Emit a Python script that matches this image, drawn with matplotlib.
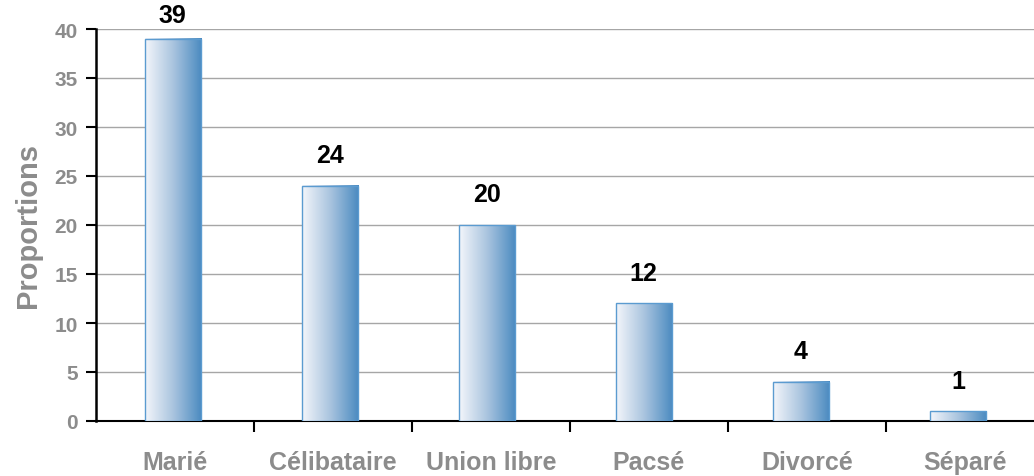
import matplotlib
matplotlib.use("Agg")
import matplotlib.pyplot as plt
import numpy as np
from matplotlib.colors import LinearSegmentedColormap
from matplotlib.patches import Rectangle

categories = ["Marié", "Célibataire", "Union libre", "Pacsé", "Divorcé", "Séparé"]
values = [39, 24, 20, 12, 4, 1]
yticks = [0, 5, 10, 15, 20, 25, 30, 35, 40]

plt.rcParams['font.family'] = ['Liberation Sans', 'DejaVu Sans']
fig = plt.figure(figsize=(10.34, 4.77), dpi=100)
ax = fig.add_axes([96/1034, (477-422)/477, (1044-96)/1034, (422-30)/477])

ax.set_xlim(-0.5, len(categories) - 0.5)
ax.set_ylim(0, 40)

cmap = LinearSegmentedColormap.from_list("g", ["#f4f6fb", "#a9c4df", "#4a8ac0"])
grad = np.linspace(0, 1, 256).reshape(1, -1)
w = 0.355
for i, v in enumerate(values):
    x0 = i - w/2 - 0.015 - 0.006 * i
    ax.imshow(grad, cmap=cmap, extent=[x0, x0 + w, 0, v], aspect='auto', zorder=3)
    ax.add_patch(Rectangle((x0, 0), w, v, fill=False, edgecolor="#5b9bd0", lw=1.0, zorder=4))
    ax.text(x0 + w/2, min(v + 1.9, 40.2), str(v), ha='center', va='bottom', fontsize=18,
            fontweight='bold', color='black', clip_on=False)

ax.set_yticks(yticks)
ax.yaxis.grid(True, color="#a6a6a6", lw=1.0, zorder=0)
ax.set_axisbelow(True)
ax.set_xticks(np.arange(0.5, len(categories) - 0.5, 1.0))
ax.set_xticks(np.arange(len(categories)), minor=True)
ax.set_xticklabels([])
ax.set_xticklabels(categories, minor=True, fontsize=18, fontweight='bold', color='#8c8c8c')
ax.tick_params(axis='x', which='major', direction='out', length=8, width=1.5, color='black')
ax.tick_params(axis='x', which='minor', length=0, pad=21)
ax.tick_params(axis='y', direction='out', length=7, width=1.5, color='black',
               labelsize=15, labelcolor='#8c8c8c', pad=6)
for lab in ax.get_yticklabels():
    lab.set_fontweight('bold')

for s in ['top', 'right']:
    ax.spines[s].set_visible(False)
ax.spines['left'].set_linewidth(1.8)
ax.spines['bottom'].set_linewidth(1.5)

ax.set_ylabel("Proportions", fontsize=21, fontweight='bold', color='#8c8c8c', labelpad=9)

fig.savefig("out.png", dpi=100)
